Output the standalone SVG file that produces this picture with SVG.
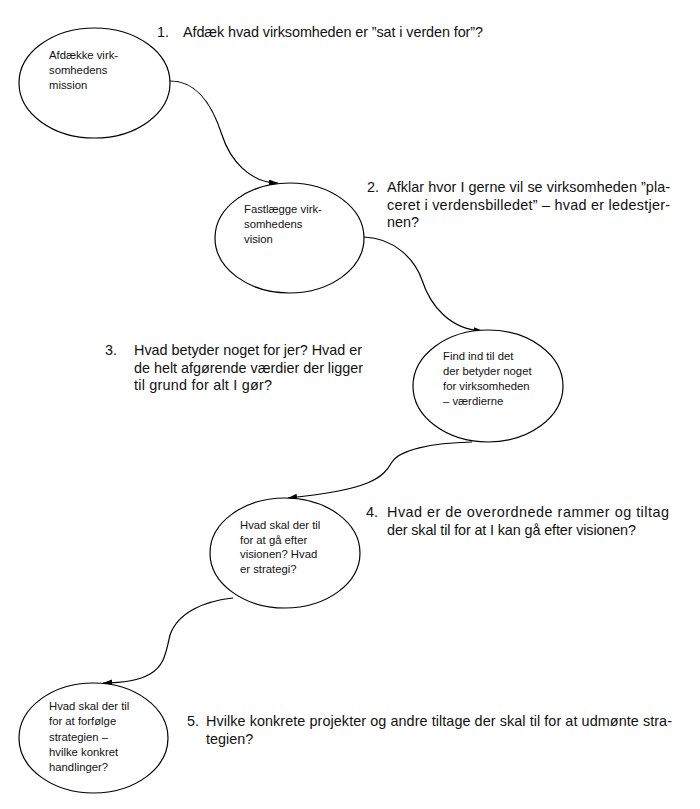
<svg xmlns="http://www.w3.org/2000/svg" width="700" height="809" viewBox="0 0 700 809">
<style>
.node{fill:#fff;stroke:#000;stroke-width:1.2}
.conn{fill:none;stroke:#000;stroke-width:1.2}
.small{font-family:"Liberation Sans",Arial,sans-serif;font-size:11.3px;fill:#111}
.big{font-family:"Liberation Sans",Arial,sans-serif;font-size:14.4px;fill:#111}
</style>
<defs>
<marker id="arr" markerUnits="userSpaceOnUse" markerWidth="10" markerHeight="8" refX="9" refY="3.5" orient="auto">
<path d="M0,0 L9,3.5 L0,7 z" fill="#000"/>
</marker>
</defs>
<rect width="700" height="809" fill="#fff"/>
<g id="connectors">
<path class="conn" d="M170,81 C200,81 214,110 222,135 C230,160 250,183 278,183" marker-end="url(#arr)"/>
<path class="conn" d="M364,237 C395,238 415,260 422,280 C430,305 450,330 483,331" marker-end="url(#arr)"/>
<path class="conn" d="M472,442 C430,443 400,450 392,462 C383,478 370,490 288,498" marker-end="url(#arr)"/>
<path class="conn" d="M233,598 C205,601 178,612 170,635 C166,652 165,665 150,674 C138,681 120,683 103,683" marker-end="url(#arr)"/>
</g>
<g id="node1">
<ellipse class="node" cx="94.5" cy="83" rx="75.5" ry="55"/>
<text class="small" x="49" y="59">Afdække virk-</text>
<text class="small" x="49" y="74">somhedens</text>
<text class="small" x="49" y="89">mission</text>
</g>
<g id="node2">
<ellipse class="node" cx="289.5" cy="238" rx="74.5" ry="55"/>
<text class="small" x="244" y="213">Fastlægge virk-</text>
<text class="small" x="244" y="228">somhedens</text>
<text class="small" x="244" y="243">vision</text>
</g>
<g id="node3">
<ellipse class="node" cx="488" cy="386" rx="75" ry="56"/>
<text class="small" x="443" y="360">Find ind til det</text>
<text class="small" x="443" y="375">der betyder noget</text>
<text class="small" x="443" y="390">for virksomheden</text>
<text class="small" x="443" y="405">– værdierne</text>
</g>
<g id="node4">
<ellipse class="node" cx="285" cy="553" rx="75" ry="55"/>
<text class="small" x="240" y="529">Hvad skal der til</text>
<text class="small" x="240" y="543.5">for at gå efter</text>
<text class="small" x="240" y="558">visionen? Hvad</text>
<text class="small" x="240" y="572.5">er strategi?</text>
</g>
<g id="node5">
<ellipse class="node" cx="93.5" cy="738" rx="74.5" ry="55"/>
<text class="small" x="49" y="710">Hvad skal der til</text>
<text class="small" x="49" y="725">for at forfølge</text>
<text class="small" x="49" y="740.5">strategien –</text>
<text class="small" x="49" y="756">hvilke konkret</text>
<text class="small" x="49" y="771">handlinger?</text>
</g>
<g id="step1">
<text class="big" x="157" y="37">1.</text>
<text class="big" x="183" y="37" textLength="300" lengthAdjust="spacing">Afdæk hvad virksomheden er ”sat i verden for”?</text>
</g>
<g id="step2">
<text class="big" x="367" y="192">2.</text>
<text class="big" x="387" y="192" textLength="283" lengthAdjust="spacing">Afklar hvor I gerne vil se virksomheden ”pla-</text>
<text class="big" x="387" y="209.5" textLength="283" lengthAdjust="spacing">ceret i verdensbilledet” – hvad er ledestjer-</text>
<text class="big" x="387" y="227">nen?</text>
</g>
<g id="step3">
<text class="big" x="105" y="355">3.</text>
<text class="big" x="134" y="355" textLength="228" lengthAdjust="spacing">Hvad betyder noget for jer? Hvad er</text>
<text class="big" x="134" y="372.5" textLength="229" lengthAdjust="spacing">de helt afgørende værdier der ligger</text>
<text class="big" x="134" y="390" textLength="138" lengthAdjust="spacing">til grund for alt I gør?</text>
</g>
<g id="step4">
<text class="big" x="366" y="517">4.</text>
<text class="big" x="387" y="517" textLength="282" lengthAdjust="spacing">Hvad er de overordnede rammer og tiltag</text>
<text class="big" x="387" y="535" textLength="249" lengthAdjust="spacing">der skal til for at I kan gå efter visionen?</text>
</g>
<g id="step5">
<text class="big" x="187" y="726">5.</text>
<text class="big" x="206" y="726" textLength="466" lengthAdjust="spacing">Hvilke konkrete projekter og andre tiltage der skal til for at udmønte stra-</text>
<text class="big" x="206" y="744">tegien?</text>
</g>
</svg>
